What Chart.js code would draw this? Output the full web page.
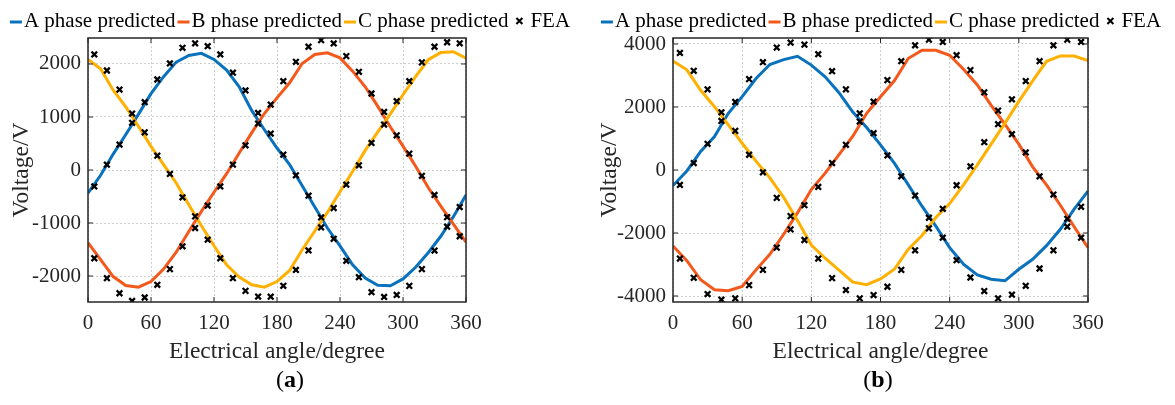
<!DOCTYPE html>
<html>
<head>
<meta charset="utf-8">
<script src="https://cdn.jsdelivr.net/npm/chart.js@4.4.1/dist/chart.umd.min.js"></script>
<style>
  body { margin: 0; background: #fff; width: 1175px; height: 405px; position: relative; overflow: hidden; font-family: "Liberation Serif", serif; }
  .panel { position: absolute; top: 0; width: 587px; height: 370px; }
  .cap { position: absolute; top: 366px; width: 100px; text-align: center; font-size: 24px; color: #000; }
</style>
</head>
<body>
<div class="panel" style="left:0"><canvas id="chartA" width="587" height="370"></canvas></div>
<div class="panel" style="left:588px"><canvas id="chartB" width="587" height="370"></canvas></div>
<div class="cap" style="left:240px">(<b>a</b>)</div>
<div class="cap" style="left:828px">(<b>b</b>)</div>
<script>
// angles (degree)
const lineAngles = [0, 12, 24, 36, 48, 60, 72, 84, 96, 108, 120, 132, 144, 156, 168, 180, 192, 204, 216, 228, 240, 252, 264, 276, 288, 300, 312, 324, 336, 348, 360];
const feaAngles = [6, 18, 30, 42, 54, 66, 78, 90, 102, 114, 126, 138, 150, 162, 174, 186, 198, 210, 222, 234, 246, 258, 270, 282, 294, 306, 318, 330, 342, 354];
const xTicks = [0, 60, 120, 180, 240, 300, 360];

// (a) predicted voltages
const predA_a = [-435, -100, 300, 670, 1050, 1440, 1760, 2035, 2160, 2200, 2085, 1885, 1570, 1120, 760, 415, 100, -296, -700, -1095, -1430, -1790, -2040, -2173, -2185, -2055, -1835, -1560, -1250, -880, -470];
const predB_a = [-1370, -1690, -2010, -2180, -2210, -2105, -1870, -1550, -1160, -780, -420, -70, 320, 705, 1065, 1360, 1645, 2010, 2180, 2210, 2115, 1865, 1570, 1200, 810, 450, 70, -330, -680, -1020, -1360];
const predC_a = [2085, 1910, 1505, 1190, 825, 445, 100, -245, -655, -1050, -1430, -1790, -2020, -2165, -2210, -2105, -1895, -1505, -1150, -800, -410, -30, 370, 720, 1060, 1420, 1760, 2080, 2215, 2230, 2110];
// (a) FEA
const feaA_a = [-310, 100, 480, 890, 1280, 1707, 2010, 2305, 2390, 2335, 2180, 1835, 1500, 1077, 687, 290, -100, -485, -895, -1298, -1713, -2022, -2305, -2394, -2356, -2186, -1870, -1520, -1070, -700];
const feaB_a = [-1665, -2040, -2325, -2470, -2405, -2165, -1870, -1440, -1095, -670, -310, 100, 465, 876, 1235, 1675, 2040, 2325, 2450, 2387, 2148, 1852, 1443, 1096, 655, 309, -110, -470, -890, -1250];
const feaC_a = [2180, 1877, 1518, 1065, 710, 270, -75, -515, -875, -1315, -1665, -2040, -2280, -2387, -2390, -2185, -1885, -1518, -1083, -718, -277, 88, 510, 857, 1298, 1676, 2030, 2325, 2410, 2390];
const yTicks_a = [-2000, -1000, 0, 1000, 2000];

// (b) predicted voltages
const predA_b = [-495, -30, 590, 1060, 1800, 2330, 2905, 3350, 3505, 3610, 3330, 2960, 2455, 1840, 1350, 800, 220, -465, -1150, -1780, -2465, -2990, -3330, -3465, -3517, -3150, -2833, -2400, -1880, -1240, -670];
const predB_b = [-2410, -2880, -3485, -3800, -3830, -3695, -3170, -2675, -2040, -1360, -620, -100, 485, 1074, 1800, 2327, 2833, 3538, 3800, 3800, 3643, 3200, 2700, 2050, 1450, 820, 100, -470, -1120, -1800, -2464];
const predC_b = [3460, 3180, 2530, 2010, 1430, 850, 280, -250, -870, -1600, -2380, -2800, -3180, -3560, -3640, -3460, -3150, -2520, -2080, -1510, -1064, -470, 160, 820, 1490, 2180, 2830, 3450, 3620, 3620, 3470];
// (b) FEA
const feaA_b = [-474, 221, 832, 1558, 2158, 2885, 3422, 3886, 4043, 3980, 3675, 3138, 2559, 1800, 1169, 463, -200, -811, -1516, -2148, -2864, -3412, -3843, -4075, -3959, -3675, -3127, -2548, -1800, -1170];
const feaB_b = [-2811, -3422, -3938, -4117, -4075, -3654, -3170, -2464, -1885, -1116, -537, 221, 800, 1537, 2169, 2853, 3454, 3959, 4138, 4065, 3643, 3170, 2464, 1885, 1137, 558, -200, -780, -1550, -2150];
const feaC_b = [3717, 3148, 2559, 1832, 1242, 484, -74, -885, -1464, -2222, -2811, -3432, -3812, -4075, -3970, -3706, -3170, -2548, -1853, -1232, -484, 116, 884, 1453, 2243, 2822, 3454, 3959, 4138, 4065];
const yTicks_b = [-4000, -2000, 0, 2000, 4000];

const seriesNames = ["A phase predicted", "B phase predicted", "C phase predicted", "FEA"];
const seriesColors = ["#0a72bd", "#f4581b", "#ffb000", "#000000"];

const FONT = "'Liberation Serif', 'Times New Roman', serif";
const TEXT = "#262626";

const toPoints = (xs, ys) => xs.map((x, i) => ({ x: x, y: ys[i] }));

// box round the plot with inward ticks on all sides
const framePlugin = {
  id: "frame",
  afterDatasetsDraw(chart) {
    const { ctx, chartArea: a, scales } = chart;
    ctx.save();
    ctx.strokeStyle = TEXT;
    ctx.lineWidth = 1.5;
    ctx.strokeRect(a.left, a.top, a.right - a.left, a.bottom - a.top);
    ctx.lineWidth = 1;
    ctx.beginPath();
    scales.x.ticks.forEach((t) => {
      const px = scales.x.getPixelForValue(t.value);
      ctx.moveTo(px, a.bottom);
      ctx.lineTo(px, a.bottom - 5);
      ctx.moveTo(px, a.top);
      ctx.lineTo(px, a.top + 5);
    });
    scales.y.ticks.forEach((t) => {
      const py = scales.y.getPixelForValue(t.value);
      ctx.moveTo(a.left, py);
      ctx.lineTo(a.left + 5, py);
      ctx.moveTo(a.right, py);
      ctx.lineTo(a.right - 5, py);
    });
    ctx.stroke();
    ctx.restore();
  },
};

// one-row legend, markers tight against the text like the original
const legendPlugin = (centerX, y) => {
  return {
    id: "flatLegend",
    afterDraw(chart) {
      const ctx = chart.ctx;
      ctx.save();
      ctx.font = "21px " + FONT;
      ctx.textBaseline = "middle";
      ctx.fillStyle = "#000";
      const items = chart.data.datasets.map((ds) => ({
        label: ds.label,
        color: ds.borderColor,
        fea: ds.showLine === false,
      }));
      const widths = items.map(
        (it) => (it.fea ? 20 : 14) + ctx.measureText(it.label).width
      );
      const total = widths.reduce((s, w) => s + w, 0) + 2 * (items.length - 1);
      let x = centerX - total / 2;
      items.forEach((it, i) => {
        if (it.fea) {
          const cx = x + 9;
          ctx.strokeStyle = "#000";
          ctx.lineWidth = 2;
          ctx.beginPath();
          ctx.moveTo(cx - 3, y - 3);
          ctx.lineTo(cx + 3, y + 3);
          ctx.moveTo(cx + 3, y - 3);
          ctx.lineTo(cx - 3, y + 3);
          ctx.stroke();
          ctx.fillText(it.label, x + 20, y);
        } else {
          ctx.strokeStyle = it.color;
          ctx.lineWidth = 3;
          ctx.beginPath();
          ctx.moveTo(x, y + 1);
          ctx.lineTo(x + 12, y + 1);
          ctx.stroke();
          ctx.fillText(it.label, x + 14, y);
        }
        x += widths[i] + 2;
      });
      ctx.restore();
    },
  };
};

const lineDataset = (i, ys) => {
  return {
    label: seriesNames[i],
    data: toPoints(lineAngles, ys),
    borderColor: seriesColors[i],
    backgroundColor: seriesColors[i],
    borderWidth: 3,
    pointRadius: 0,
    tension: 0,
    order: 3 - i,
  };
};

const makeChart = (id, preds, feas, yTicks, yLimit, leftW, rightW, legendX) => {
  const feaPoints = [].concat(
    toPoints(feaAngles, feas[0]),
    toPoints(feaAngles, feas[1]),
    toPoints(feaAngles, feas[2])
  );
  return new Chart(document.getElementById(id), {
    type: "line",
    data: {
      datasets: [
        lineDataset(0, preds[0]),
        lineDataset(1, preds[1]),
        lineDataset(2, preds[2]),
        {
          label: seriesNames[3],
          data: feaPoints,
          showLine: false,
          pointStyle: "crossRot",
          pointRadius: 4,
          pointBorderWidth: 2.3,
          borderColor: "#000",
          pointBorderColor: "#000",
          backgroundColor: "#000",
          order: 0,
        },
      ],
    },
    options: {
      responsive: false,
      animation: false,
      layout: { padding: { top: 38, left: 0, right: 0, bottom: 0 } },
      scales: {
        x: {
          type: "linear",
          min: 0,
          max: 360,
          afterBuildTicks: (s) => {
            s.ticks = xTicks.map((v) => ({ value: v }));
          },
          afterFit: (s) => {
            s.height = 68;
          },
          grid: { color: "#cfcfcf", drawTicks: false },
          border: { display: false, dash: [2, 2] },
          ticks: {
            padding: 9,
            color: TEXT,
            font: { family: FONT, size: 21 },
            maxRotation: 0,
            callback: (v) => String(v),
          },
          title: {
            display: true,
            text: "Electrical angle/degree",
            color: TEXT,
            font: { family: FONT, size: 23.5 },
            padding: { top: 0, bottom: 4 },
          },
        },
        y: {
          type: "linear",
          min: -yLimit,
          max: yLimit,
          afterBuildTicks: (s) => {
            s.ticks = yTicks.map((v) => ({ value: v }));
          },
          afterFit: (s) => {
            s.width = leftW;
          },
          grid: { color: "#cfcfcf", drawTicks: false },
          border: { display: false, dash: [2, 2] },
          ticks: {
            padding: 7,
            color: TEXT,
            font: { family: FONT, size: 21 },
            callback: (v) => String(v),
          },
          title: {
            display: true,
            text: "Voltage/V",
            color: TEXT,
            font: { family: FONT, size: 23.5 },
            padding: { top: 8, bottom: 0 },
          },
        },
        // empty axis, only keeps room on the right
        yr: {
          type: "linear",
          position: "right",
          display: true,
          afterFit: (s) => {
            s.width = rightW;
          },
          grid: { display: false },
          border: { display: false },
          ticks: { display: false },
        },
      },
      plugins: {
        legend: { display: false },
        tooltip: { enabled: false },
      },
    },
    plugins: [framePlugin, legendPlugin(legendX, 21)],
  });
};

makeChart("chartA", [predA_a, predB_a, predC_a], [feaA_a, feaB_a, feaC_a], yTicks_a, 2490, 88, 121, 290);
makeChart("chartB", [predA_b, predB_b, predC_b], [feaA_b, feaB_b, feaC_b], yTicks_b, 4190, 85, 87, 293);
</script>
</body>
</html>
